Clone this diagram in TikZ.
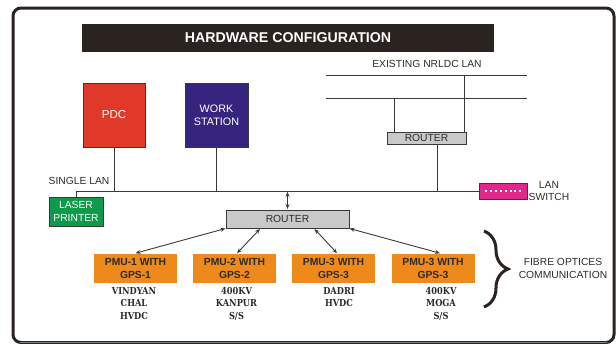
\documentclass[tikz,border=0pt]{standalone}
\usepackage{fontspec}
\setmainfont{Liberation Sans}
\newfontfamily\slab[FakeStretch=0.86]{DejaVu Serif}
\usetikzlibrary{arrows.meta,calc,decorations.pathreplacing}
\definecolor{framecol}{HTML}{2B231F}
\definecolor{linecol}{HTML}{3C3836}
\definecolor{pdcred}{HTML}{E0392A}
\definecolor{wsblue}{HTML}{35257F}
\definecolor{lpgreen}{HTML}{0E9A4A}
\definecolor{routergrey}{HTML}{C9C9C9}
\definecolor{swmag}{HTML}{E0278A}
\definecolor{pmuorange}{HTML}{EE8A1C}
\definecolor{txtdark}{HTML}{2E2A28}
\tikzset{
  x=1pt, y=1pt,
  base/.style={inner sep=0pt, outer sep=0pt, align=center, font=\fontsize{10.3}{12.5}\selectfont},
  devbox/.style={base, draw=linecol, line width=0.9pt, text=white},
  routerbox/.style={base, draw=linecol, line width=0.9pt, fill=routergrey, text=txtdark},
  pmubox/.style={base, fill=pmuorange, text=txtdark, minimum width=83pt, minimum height=29pt, font=\bfseries\fontsize{10.3}{12.5}\selectfont},
  sitelabel/.style={base, anchor=north, text=txtdark, font=\slab\bfseries\fontsize{9.6}{12.6}\selectfont},
  plain/.style={base, text=txtdark},
  wire/.style={draw=linecol, line width=0.9pt},
  biarrow/.style={wire, {Stealth[length=5pt,width=4pt]}-{Stealth[length=5pt,width=4pt]}},
}
\begin{document}
\begin{tikzpicture}
\useasboundingbox (0,0) rectangle (616,-343);
% outer frame
\draw[framecol, line width=3pt, rounded corners=8pt] (13,-342.5) rectangle (614,-8);
\draw[gray, line width=1pt] (20,-342.3) -- (607,-342.3);
% title
\node[base, fill=framecol, text=white, minimum width=412pt, minimum height=28pt,
      font=\bfseries\fontsize{14.2}{16}\selectfont] (title) at (288,-38) {HARDWARE CONFIGURATION};
% devices
\node[devbox, fill=pdcred, minimum width=62pt, minimum height=64pt, font=\fontsize{11.5}{13}\selectfont] (pdc) at (114,-115) {PDC};
\node[devbox, fill=wsblue, minimum width=63pt, minimum height=64pt, font=\fontsize{10.8}{13}\selectfont] (ws) at (216.5,-115.5) {WORK\\STATION};
\node[devbox, fill=lpgreen, minimum width=54pt, minimum height=29pt] (lp) at (76,-211.5) {LASER\\PRINTER};
\node[routerbox, minimum width=79pt, minimum height=12pt] (r1) at (426.5,-138) {ROUTER};
\node[routerbox, minimum width=123pt, minimum height=18pt] (r2) at (287.5,-219) {ROUTER};
\node[base, draw=linecol, line width=0.9pt, fill=swmag, minimum width=48pt, minimum height=16pt] (sw) at (503,-191) {};
\draw[white, line width=1.8pt, dash pattern=on 2pt off 2.9pt] ($(sw.west)+(6,0)$) -- ($(sw.east)+(-5,0)$);
% texts
\node[plain] (nrldc) at (427,-64) {EXISTING NRLDC LAN};
\node[plain] (single) at (79,-181) {SINGLE LAN};
\node[plain] (swlabel) at (549,-191) {LAN\\SWITCH};
\node[plain] (fibre) at (563,-268.5) {FIBRE OPTICES\\COMMUNICATION};
% existing LAN
\coordinate (la1) at (326,-75);
\coordinate (la2) at (527,-75);
\coordinate (lb1) at (326,-98);
\coordinate (lb2) at (527,-98);
\coordinate (v1) at (394,-98);
\coordinate (v2) at (464,-75);
\draw[wire] (la1) -- (la2);
\draw[wire] (lb1) -- (lb2);
\draw[wire] (v1) -- (v1 |- r1.north);
\draw[wire] (v2) -- (v2 |- r1.north);
% main LAN
\draw[wire] (lp.north) |- (sw.west);
\draw[wire] (pdc.south) -- (pdc.south |- sw.west);
\draw[wire] (ws.south) -- (ws.south |- sw.west);
\coordinate (r1drop) at ($(r1.south)+(10.5,0)$);
\draw[wire] (r1drop) -- (r1drop |- sw.west);
\draw[biarrow] ($(r2.north |- sw.west)+(0,-0.8)$) -- ($(r2.north)+(0,1)$);
% PMUs
\node[pmubox] (pmu1) at (135.5,-268.5) {PMU-1 WITH\\GPS-1};
\node[pmubox] (pmu2) at (234.5,-268.5) {PMU-2 WITH\\GPS-2};
\node[pmubox] (pmu3) at (333.5,-268.5) {PMU-3 WITH\\GPS-3};
\node[pmubox] (pmu4) at (433,-268.5) {PMU-3 WITH\\GPS-3};
\node[sitelabel] (s1) at (134,-287) {VINDYAN\\CHAL\\HVDC};
\node[sitelabel] (s2) at (236.5,-287) {400KV\\KANPUR\\S/S};
\node[sitelabel] (s3) at (339,-287) {DADRI\\HVDC};
\node[sitelabel] (s4) at (441,-287) {400KV\\MOGA\\S/S};
% arrows router -> PMUs
\draw[biarrow] ($(r2.south west)+(-0.5,-0.5)$) -- ($(pmu1.north)+(0,0.8)$);
\draw[biarrow] ($(r2.south west)!0.276!(r2.south east)+(0,-1)$) -- ($(pmu2.north)+(2.5,0.8)$);
\draw[biarrow] ($(r2.south west)!0.72!(r2.south east)+(0,-1)$) -- ($(pmu3.north)+(3.5,0.8)$);
\draw[biarrow] ($(r2.south east)+(0.5,-0.5)$) -- ($(pmu4.north)+(7,0.8)$);
% brace
\coordinate (bt) at (484,-231);
\coordinate (bb) at (484,-307);
\draw[framecol, line width=3pt, decorate, decoration={brace, amplitude=24pt}] (bt) -- (bb);
\end{tikzpicture}
\end{document}
